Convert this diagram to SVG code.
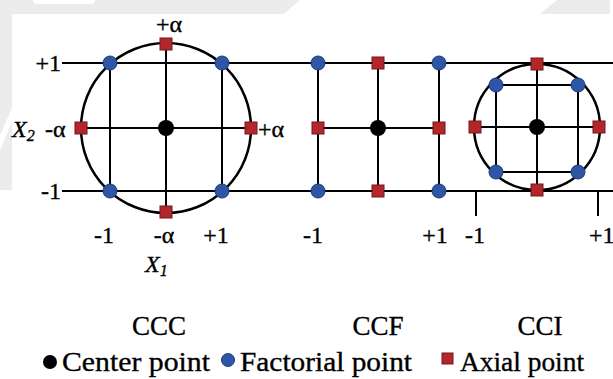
<svg xmlns="http://www.w3.org/2000/svg" width="613" height="379" viewBox="0 0 613 379">
<style>
.ln{stroke:#000;stroke-width:2;fill:none}
.circ{stroke:#000;stroke-width:2.5;fill:none}
.fac{fill:#2d56a6;stroke:#1b3b78;stroke-width:1}
.ax{fill:#b2272b;stroke:#7a1416;stroke-width:1}
.ctr{fill:#000}
.t{font-family:"Liberation Serif","Times New Roman",serif;fill:#000;stroke:#000;stroke-width:0.35px}
.m{text-anchor:middle}
.e{text-anchor:end}
.i{font-style:italic}
.bg{fill:#ececec}
</style>
<defs>
<circle id="F" r="7" class="fac"/>
<rect id="A" x="-6" y="-6" width="12" height="12" class="ax"/>
<circle id="C" r="8" class="ctr"/>
</defs>
<rect width="613" height="379" fill="#fff"/>
<g id="background">
<polygon class="bg" points="0,0 300,0 284,14 12,14 12,190 0,190"/>
<rect x="33" y="-4" width="62" height="8" rx="4" fill="#fff"/>
<polygon fill="#fff" points="0,135 12,108 12,122 0,150"/>
<polygon class="bg" points="557,0 610,0 610,14 540,14"/>
</g>
<g id="connectors">
<line class="ln" x1="62" y1="63" x2="613" y2="63"/>
<line class="ln" x1="62" y1="191" x2="613" y2="191"/>
<circle class="circ" cx="166" cy="128" r="85"/>
<line class="ln" x1="81" y1="128" x2="251" y2="128"/>
<line class="ln" x1="110" y1="63" x2="110" y2="191"/>
<line class="ln" x1="222" y1="63" x2="222" y2="191"/>
<line class="ln" x1="166" y1="43" x2="166" y2="213"/>
<line class="ln" x1="318" y1="128" x2="439" y2="128"/>
<line class="ln" x1="318" y1="63" x2="318" y2="191"/>
<line class="ln" x1="378" y1="63" x2="378" y2="191"/>
<line class="ln" x1="439" y1="63" x2="439" y2="191"/>
<circle class="circ" cx="537" cy="127" r="63"/>
<line class="ln" x1="474" y1="127" x2="600" y2="127"/>
<line class="ln" x1="537" y1="63" x2="537" y2="191"/>
<line class="ln" x1="496" y1="85" x2="578" y2="85"/>
<line class="ln" x1="496" y1="172" x2="578" y2="172"/>
<line class="ln" x1="496" y1="85" x2="496" y2="172"/>
<line class="ln" x1="578" y1="85" x2="578" y2="172"/>
<line class="ln" x1="476" y1="191" x2="476" y2="216"/>
<line class="ln" x1="598" y1="191" x2="598" y2="216"/>
</g>
<g id="ccc">
<use href="#F" x="110" y="63"/><use href="#F" x="222" y="63"/>
<use href="#F" x="110" y="191"/><use href="#F" x="222" y="191"/>
<use href="#A" x="166" y="44"/><use href="#A" x="166" y="212"/>
<use href="#A" x="81" y="128"/><use href="#A" x="251" y="128"/>
<use href="#C" x="166" y="128"/>
</g>
<g id="ccf">
<use href="#F" x="318" y="63"/><use href="#F" x="439" y="63"/>
<use href="#F" x="318" y="191"/><use href="#F" x="439" y="191"/>
<use href="#A" x="378" y="63"/><use href="#A" x="378" y="191"/>
<use href="#A" x="318" y="128"/><use href="#A" x="439" y="128"/>
<use href="#C" x="378" y="128"/>
</g>
<g id="cci">
<use href="#F" x="496" y="85"/><use href="#F" x="578" y="85"/>
<use href="#F" x="496" y="172"/><use href="#F" x="578" y="172"/>
<use href="#A" x="537" y="64"/><use href="#A" x="537" y="190"/>
<use href="#A" x="475" y="127"/><use href="#A" x="599" y="127"/>
<use href="#C" x="537" y="127"/>
</g>
<g id="axis-labels" class="t" font-size="24">
<text class="m" x="169" y="32">+α</text>
<text class="e" x="61" y="71">+1</text>
<text class="e" x="61" y="199">-1</text>
<text class="i" x="12" y="137">X<tspan font-size="16" dy="4">2</tspan></text>
<text x="45" y="137">-α</text>
<text x="258" y="137">+α</text>
<text class="m" x="104" y="243">-1</text>
<text class="m" x="164" y="243">-α</text>
<text class="m" x="216" y="243">+1</text>
<text class="i" x="145" y="272">X<tspan font-size="16" dy="4">1</tspan></text>
<text class="m" x="313" y="243">-1</text>
<text class="m" x="435" y="243">+1</text>
<text class="m" x="475" y="243">-1</text>
<text x="589" y="243">+1</text>
</g>
<g id="titles" class="t" font-size="27">
<text class="m" x="159" y="335">CCC</text>
<text class="m" x="378" y="335">CCF</text>
<text class="m" x="540" y="335">CCI</text>
</g>
<g id="legend" class="t" font-size="28">
<circle cx="50" cy="362" r="7" class="ctr" stroke="none"/>
<text x="62" y="371" textLength="148" lengthAdjust="spacingAndGlyphs">Center point</text>
<circle cx="228" cy="360" r="6.5" class="fac"/>
<text x="240" y="371" textLength="172" lengthAdjust="spacingAndGlyphs">Factorial point</text>
<rect x="442" y="353" width="11" height="11" class="ax"/>
<text x="460" y="371" textLength="124" lengthAdjust="spacingAndGlyphs">Axial point</text>
</g>
</svg>
